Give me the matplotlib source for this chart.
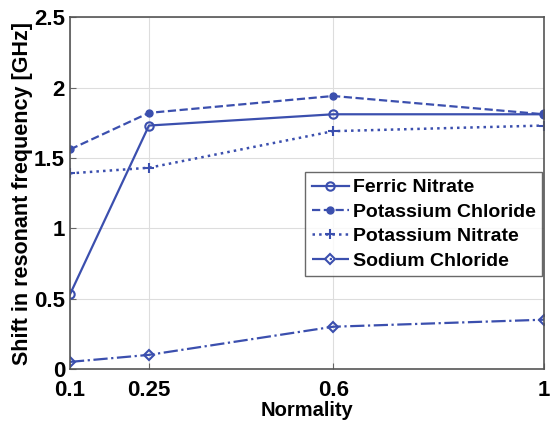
import matplotlib
matplotlib.use("Agg")
import matplotlib.pyplot as plt

# Normality values and frequency shift (GHz)
normality = [0.1, 0.25, 0.6, 1.0]
ferric_nitrate = [0.53, 1.73, 1.81, 1.81]
potassium_chloride = [1.56, 1.82, 1.94, 1.81]
potassium_nitrate = [1.39, 1.43, 1.69, 1.73]
sodium_chloride = [0.05, 0.10, 0.30, 0.35]

cor = "#3b4fae"
plt.rcParams["font.family"] = ["Liberation Sans", "DejaVu Sans"]
plt.rcParams["font.weight"] = "bold"

fig = plt.figure(figsize=(5.51, 4.30), dpi=100)
ax = fig.add_axes([0.127, 0.142, 0.860, 0.818])

ax.plot(normality, ferric_nitrate, "-", marker="o", ms=6, mfc="none", mew=1.5,
        color=cor, lw=1.6, label="Ferric Nitrate")
ax.plot(normality, potassium_chloride, "--", marker="o", ms=5, color=cor,
        lw=1.6, label="Potassium Chloride")
ax.plot(normality, potassium_nitrate, ":", marker="+", ms=7, mew=1.5, color=cor,
        lw=1.8, label="Potassium Nitrate")
ax.plot(normality, sodium_chloride, "-.", marker="D", ms=5, mfc="none", mew=1.5,
        color=cor, lw=1.6, label="Sodium Chloride")

ax.set_xlim(0.1, 1)
ax.set_ylim(0, 2.5)
ax.set_xticks(normality)
ax.set_xticklabels(["0.1", "0.25", "0.6", "1"])
ax.set_yticks([0, 0.5, 1, 1.5, 2, 2.5])
ax.set_yticklabels(["0", "0.5", "1", "1.5", "2", "2.5"], va="center_baseline")
ax.tick_params(labelsize=16, direction="in", length=4, color="#666666")
ax.tick_params(axis="x", pad=8)
ax.grid(True, color="#dddddd", lw=0.8)
for s in ax.spines.values():
    s.set_color("#555555")
    s.set_linewidth(1.2)

ax.set_xlabel("Normality", fontsize=14.5, fontweight="bold", labelpad=0)
ax.set_ylabel("Shift in resonant frequency [GHz]", fontsize=15.5, fontweight="bold", labelpad=1)

leg = ax.legend(loc="upper left", bbox_to_anchor=(0.496, 0.56), fontsize=14,
                frameon=True, fancybox=False, handlelength=1.9, handletextpad=0.2,
                borderpad=0.35, labelspacing=0.35, borderaxespad=0)
leg.get_frame().set_edgecolor("#444444")
leg.get_frame().set_linewidth(1.0)

fig.savefig("out.png", dpi=100)
